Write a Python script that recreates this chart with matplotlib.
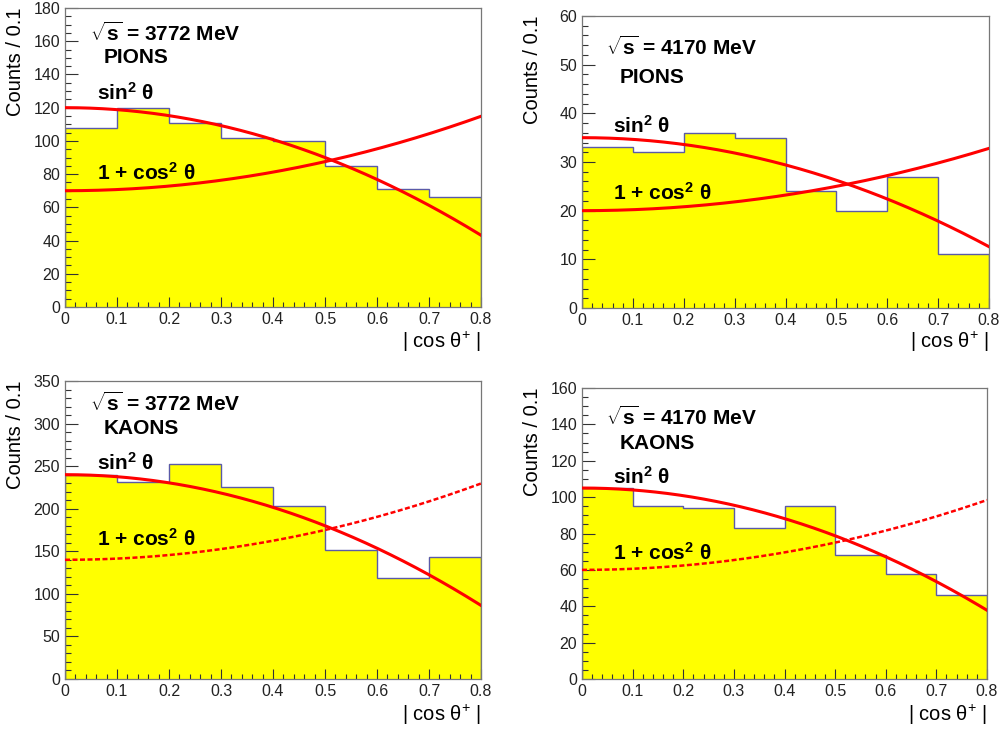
import numpy as np
import matplotlib
matplotlib.use("Agg")
import matplotlib.pyplot as plt
from matplotlib.ticker import MultipleLocator

# ---------------- data ----------------
edges = [0.0, 0.1, 0.2, 0.3, 0.4, 0.5, 0.6, 0.7, 0.8]
pions_3772 = [108, 120, 111, 102, 100, 85, 71, 66]
pions_4170 = [33, 32, 36, 35, 24, 20, 27, 11]
kaons_3772 = [240, 231, 253, 225, 203, 151, 119, 143]
kaons_4170 = [105, 95, 94, 83, 95, 68, 58, 46]

# amplitudes of the overlaid shapes: A*sin^2(theta) and B*(1+cos^2(theta))
sin2_amp = [120, 35, 240, 105]
cos2_amp = [70, 20, 140, 60]

energies = ["3772", "4170", "3772", "4170"]
species = ["PIONS", "PIONS", "KAONS", "KAONS"]
ymax = [180, 60, 350, 160]
ymajor = [20, 10, 50, 20]
yminor = [5, 2, 10, 5]

W, H = 1006, 729
fig = plt.figure(figsize=(W / 100, H / 100), dpi=100)
FONT = ["Liberation Sans", "DejaVu Sans"]
plt.rcParams["font.family"] = FONT
plt.rcParams["mathtext.fontset"] = "custom"
plt.rcParams["mathtext.rm"] = "Liberation Sans"
plt.rcParams["mathtext.bf"] = "Liberation Sans:bold"
plt.rcParams["mathtext.it"] = "Liberation Sans:italic"

# axes boxes in pixels: left, top, right, bottom
boxes = [(65, 8, 481, 307), (582, 16, 989, 308),
         (65, 381, 481, 679), (582, 388, 987, 679)]
# text positions in axes fraction
txt_pos = [
    [(0.060, 0.916), (0.094, 0.833), (0.077, 0.716), (0.077, 0.450)],
    [(0.059, 0.894), (0.093, 0.791), (0.076, 0.623), (0.076, 0.394)],
    [(0.060, 0.926), (0.094, 0.842), (0.077, 0.725), (0.077, 0.470)],
    [(0.059, 0.900), (0.094, 0.808), (0.077, 0.694), (0.077, 0.433)],
]
ylab_x = [16, 533, 16, 533]
xlab_y = [342, 342, 715, 715]

data = [pions_3772, pions_4170, kaons_3772, kaons_4170]

for i in range(4):
    l, t, r, b = boxes[i]
    ax = fig.add_axes([l / W, 1 - b / H, (r - l) / W, (b - t) / H])
    vals = data[i]
    ax.stairs(vals, edges, fill=True, color="#ffff00", zorder=1)
    ax.stairs(vals, edges, color="#5a5aa8", lw=1.0, zorder=2)

    x = np.linspace(0, 0.8, 300)
    ax.plot(x, sin2_amp[i] * (1 - x ** 2), color="#ff0000", lw=2.2, zorder=3)
    if i < 2:
        ax.plot(x, cos2_amp[i] * (1 + x ** 2), color="#ff0000", lw=2.2, zorder=3)
    else:
        ax.plot(x, cos2_amp[i] * (1 + x ** 2), color="#ff0000", lw=1.8,
                ls=(0, (2, 1)), zorder=3)

    ax.set_xlim(0, 0.8)
    ax.set_ylim(0, ymax[i])
    ax.xaxis.set_major_locator(MultipleLocator(0.1))
    ax.xaxis.set_minor_locator(MultipleLocator(0.02))
    ax.yaxis.set_major_locator(MultipleLocator(ymajor[i]))
    ax.yaxis.set_minor_locator(MultipleLocator(yminor[i]))
    ax.xaxis.set_major_formatter(plt.FuncFormatter(lambda v, p: "0" if abs(v) < 1e-9 else f"{v:.1f}"))
    ax.tick_params(which="both", direction="in", top=False, right=False,
                   labelsize=11.5, colors="#333333", labelcolor="#222222")
    ax.tick_params(axis="y", which="major", length=9.5, width=0.8)
    ax.tick_params(axis="y", which="minor", length=4.5, width=0.8)
    ax.tick_params(axis="x", which="major", length=7.5, width=0.8)
    ax.tick_params(axis="x", which="minor", length=3.8, width=0.8)
    for s in ax.spines.values():
        s.set_color("#777777")
        s.set_linewidth(0.9)

    p = txt_pos[i]
    ax.text(p[0][0], p[0][1], r"$\sqrt{\mathbf{s}}$ = " + energies[i] + " MeV",
            transform=ax.transAxes, fontsize=15, fontweight="bold", va="center", ha="left")
    ax.text(p[1][0], p[1][1], species[i], transform=ax.transAxes, fontsize=15,
            fontweight="bold", va="center", ha="left")
    ax.text(p[2][0], p[2][1], r"sin$^{\mathbf{2}}$ θ", transform=ax.transAxes, fontsize=15,
            fontweight="bold", va="center", ha="left")
    ax.text(p[3][0], p[3][1], r"1 + cos$^{\mathbf{2}}$ θ", transform=ax.transAxes, fontsize=15,
            fontweight="bold", va="center", ha="left")

    fig.text(ylab_x[i] / W, 1 - t / H, "Counts / 0.1", rotation=90, ha="center",
             va="top", fontsize=14.5)
    fig.text(r / W, 1 - xlab_y[i] / H, r"| cos θ$^{+}$ |", ha="right", va="center",
             fontsize=14.5)

fig.savefig("out.png", dpi=100)
